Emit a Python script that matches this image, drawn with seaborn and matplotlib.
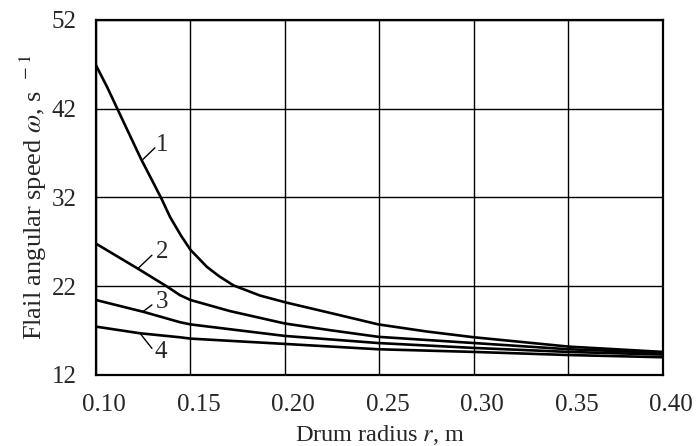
import seaborn as sns
import matplotlib.pyplot as plt
import matplotlib.transforms as mtransforms
import numpy as np
import pandas as pd

# Curve readings (drum radius r in m, flail angular speed in 1/s)
r1 = [0.100, 0.106, 0.1113, 0.1166, 0.1237, 0.1312, 0.1348, 0.1392, 0.145, 0.150, 0.155,
      0.1586, 0.165, 0.1727, 0.1868, 0.2009, 0.2238, 0.2494, 0.275, 0.30, 0.35, 0.40]
w1 = [46.9, 44.4, 42.0, 39.6, 36.4, 33.3, 31.8, 29.8, 27.7, 26.1, 25.0,
      24.2, 23.15, 22.1, 20.95, 20.15, 19.0, 17.7, 16.9, 16.25, 15.2, 14.6]

r2 = [0.100, 0.1228, 0.1377, 0.1444, 0.150, 0.1709, 0.200, 0.2238, 0.2494, 0.30, 0.35, 0.40]
w2 = [26.8, 23.9, 21.95, 21.0, 20.45, 19.2, 17.8, 17.05, 16.3, 15.6, 14.9, 14.5]

r3 = [0.100, 0.1254, 0.1444, 0.150, 0.200, 0.2494, 0.30, 0.35, 0.40]
w3 = [20.45, 19.1, 17.95, 17.7, 16.4, 15.6, 15.05, 14.6, 14.3]

r4 = [0.100, 0.1233, 0.1444, 0.150, 0.200, 0.2494, 0.30, 0.35, 0.40]
w4 = [17.45, 16.7, 16.25, 16.1, 15.5, 14.9, 14.6, 14.25, 14.0]

curve_names = ["1", "2", "3", "4"]

# label text position, leader start on curve, leader end near text
label_pos = [(0.1350, 37.9), (0.1350, 25.9), (0.1350, 20.2), (0.1345, 14.6)]
leader_curve = [(0.1249, 36.3), (0.1222, 24.0), (0.1249, 19.15), (0.1233, 16.7)]
leader_text = [(0.1312, 37.6), (0.1296, 25.5), (0.1296, 19.9), (0.1296, 15.0)]

xticks = [0.10, 0.15, 0.20, 0.25, 0.30, 0.35, 0.40]
yticks = [12, 22, 32, 42, 52]

frames = []
for name, r, w in zip(curve_names, [r1, r2, r3, r4], [w1, w2, w3, w4]):
    frames.append(pd.DataFrame({"r": r, "w": w, "curve": name}))
df = pd.concat(frames, ignore_index=True)

sns.set_style("white")
plt.rcParams["font.family"] = ["Liberation Serif", "DejaVu Serif"]
plt.rcParams["mathtext.fontset"] = "stix"

fig = plt.figure(figsize=(6.99, 4.46), dpi=100)
ax = fig.add_axes([0.1373, 0.1592, 0.8112, 0.7960])

sns.lineplot(data=df, x="r", y="w", hue="curve", palette=["black"] * 4,
             linewidth=1.9, legend=False, ax=ax, sort=True)

for name, (tx, ty), (cx, cy), (ex, ey) in zip(curve_names, label_pos, leader_curve, leader_text):
    ax.plot([cx, ex], [cy, ey], color="black", lw=1.0)
    ax.text(tx, ty, name, fontsize=18, ha="center", va="center")

ax.set_xlim(0.10, 0.40)
ax.set_ylim(12, 52)
ax.set_xticks(xticks)
ax.set_yticks(yticks)
ax.set_xticklabels([f"{v:.2f}" for v in xticks], fontsize=18)
ax.set_yticklabels([str(v) for v in yticks], fontsize=18)
ax.tick_params(axis="x", length=0, pad=14)
ax.tick_params(axis="y", length=0, pad=14)
# x tick labels sit slightly right of their gridlines in the original
shift = mtransforms.ScaledTranslation(8 / 100, 0, fig.dpi_scale_trans)
for lab in ax.get_xticklabels():
    lab.set_transform(lab.get_transform() + shift)

ax.grid(True, color="black", linewidth=1.0)
for s in ax.spines.values():
    s.set_color("black")
    s.set_linewidth(1.6)

ax.set_xlabel(r"Drum radius $\mathit{r}$, m", fontsize=17.5, labelpad=5)
ax.set_ylabel(r"Flail angular speed $\omega$, s$^{\ \ -1}$", fontsize=19, labelpad=2)

fig.savefig("out.png", dpi=100)
